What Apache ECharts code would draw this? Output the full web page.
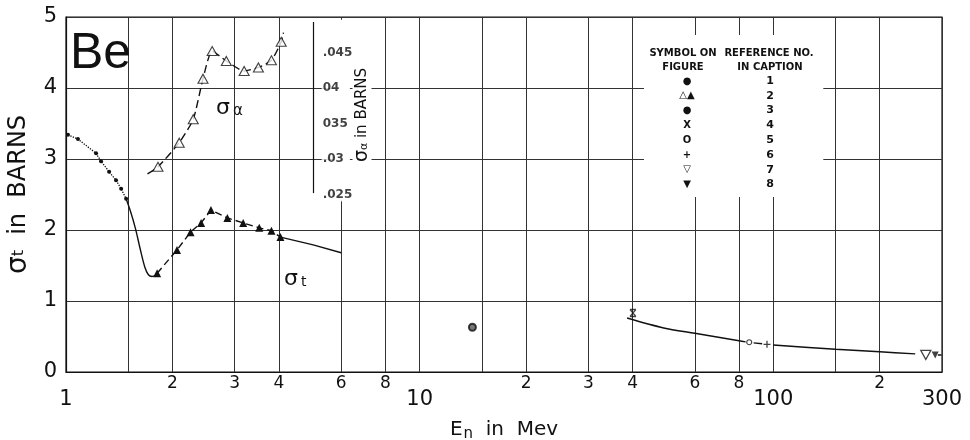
<!DOCTYPE html>
<html><head><meta charset="utf-8">
<script src="https://cdn.jsdelivr.net/npm/echarts@6/dist/echarts.min.js"></script>
<style>html,body{margin:0;padding:0;background:#fff}#c{width:970px;height:440px}</style>
</head><body><div id="c"></div>
<script>
// ---- data ----
const gridX = [1,1.5,2,3,4,6,8,10,15,20,30,40,60,80,100,150,200,300];
const upperTickValues = [2,3,4,6,8,20,30,40,60,80,200];
const upperTickLabels = ['2','3','4','6','8','2','3','4','6','8','2'];
const lowerTickValues = [1,10,100,300];
const lowerTickLabels = ['1','10','100','300'];
const yTickLabels = ['0','1','2','3','4','5'];

// ref 1 : total cross-section dots (barns)
const ref1Points = [[1.013,3.34],[1.081,3.28],[1.216,3.08],[1.256,2.97],[1.324,2.82],[1.385,2.70],[1.432,2.58],[1.479,2.44]];
const ref1Fit = [[1.479,2.44],[1.52,2.27],[1.57,2.03],[1.62,1.74],[1.67,1.48],[1.71,1.37],[1.75,1.345],[1.80,1.37]];
// ref 2 : sigma_t filled triangles (barns)
const sigmaTPoints = [[1.81,1.39],[2.06,1.72],[2.25,1.97],[2.41,2.10],[2.57,2.28],[2.86,2.17],[3.17,2.10],[3.52,2.03],[3.81,1.99],[4.04,1.90]];
const sigmaTTail = [[4.04,1.90],[5,1.79],[6,1.68]];
// ref 2 : sigma_alpha open triangles (barns, right-hand scale)
const sigmaAlphaPoints = [[1.82,0.0289],[2.09,0.0323],[2.29,0.0356],[2.44,0.0413],[2.59,0.0452],[2.84,0.0438],[3.19,0.0424],[3.50,0.0429],[3.81,0.0439],[4.06,0.0465]];
const sigmaAlphaCurve = [[1.70,0.0279],[1.82,0.0289],[2.09,0.0323],[2.29,0.0356],[2.44,0.0413],[2.59,0.0452],[2.84,0.0438],[3.19,0.0424],[3.50,0.0429],[3.81,0.0439],[4.06,0.0465],[4.12,0.0478]];
const alphaTickValues = [0.025,0.03,0.035,0.04,0.045];
const alphaTickLabels = ['.025','.03','035','04','.045'];
const alphaAxisSpan = [0.0252,0.0493];
const alphaAxisEnergy = 5;
// high energy points
const ref3Points = [[14.1,0.63]];
const ref4Points = [[40.1,0.83]];
const highCurveA = [[38.6,0.76],[49,0.62],[60,0.545],[80,0.44],[83.5,0.425]];
const ref5Points = [[85.5,0.42]];
const linkAB = [[88,0.41],[93,0.398]];
const ref6Points = [[96,0.39]];
const highCurveB = [[100,0.38],[150,0.32],[200,0.285],[252,0.255]];
const ref7Points = [[270,0.24]];
const ref8Points = [[287,0.24]];
const tailDash = [[292,0.24],[299,0.24]];
// legend table
const legendSymbols = ['●','△▲','●','X','O','+','▽','▼'];
const legendRefs = ['1','2','3','4','5','6','7','8'];

// ---- chart ----
const FONT = 'DejaVu Sans';
const INK = '#111';
const chart = echarts.init(document.getElementById('c'), null, {renderer:'canvas'});

function pick(vals, labels, v){
  const i = vals.findIndex(t => Math.abs(t - v) / t < 1e-6);
  return i >= 0 ? labels[i] : '';
}

const LF = 'bold 10px "DejaVu Sans"';
const legendEls = [];
function legendText(x, y, t, font){
  legendEls.push({type:'text', x:x, y:y, z:100, style:{text:t, font:font || LF, fill:INK, align:'center', verticalAlign:'middle'}});
}
legendText(683, 53, 'SYMBOL ON');
legendText(683, 67, 'FIGURE');
legendText(769, 53, 'REFERENCE NO.');
legendText(770, 67, 'IN CAPTION');
legendSymbols.forEach((s,i) => {
  legendText(687, 81 + i*14.8, s);
  legendText(770, 81 + i*14.8, legendRefs[i], 'bold 11px "DejaVu Sans"');
});

const solid = {color:INK, width:1.4, type:'solid'};
const option = {
  animation:false,
  backgroundColor:'#fff',
  textStyle:{fontFamily:FONT},
  grid:{left:66, right:28, top:17, bottom:68, outerBoundsMode:'none', containLabel:false, show:true, borderColor:INK, borderWidth:1.2, backgroundColor:'transparent'},
  xAxis:[
    {type:'log', logBase:10, min:1, max:300, position:'bottom',
     axisLine:{show:true, lineStyle:{color:INK, width:1.2}},
     axisTick:{show:false, customValues:gridX},
     splitLine:{show:true, lineStyle:{color:'#333', width:1}},
     axisLabel:{customValues:upperTickValues, margin:3, fontSize:17, color:INK, fontFamily:FONT,
       formatter:v => pick(upperTickValues, upperTickLabels, v)},
     name:'{e|E}{n|n}{r|  in  Mev}', nameLocation:'middle', nameGap:45,
     nameTextStyle:{rich:{e:{fontSize:20, fontFamily:FONT, color:INK}, n:{fontSize:15, fontFamily:FONT, color:INK, verticalAlign:'bottom', padding:[10,0,0,1]}, r:{fontSize:20, fontFamily:FONT, color:INK}}}
    },
    {type:'log', logBase:10, min:1, max:300, position:'bottom',
     axisLine:{show:false}, axisTick:{show:false}, splitLine:{show:false},
     axisLabel:{customValues:lowerTickValues, margin:17, fontSize:21, color:INK, fontFamily:FONT,
       formatter:v => pick(lowerTickValues, lowerTickLabels, v)}
    }
  ],
  yAxis:[
    {type:'value', min:0, max:5, interval:1,
     axisLine:{show:true, lineStyle:{color:INK, width:1.2}}, axisTick:{show:false},
     splitLine:{show:true, lineStyle:{color:'#333', width:1}},
     axisLabel:{fontSize:21, margin:9, color:INK, fontFamily:FONT, formatter:v => yTickLabels[Math.round(v)]},
     name:'{s|σ}{t|t}{r|  in  BARNS}', nameLocation:'middle', nameGap:30, nameRotate:90,
     nameTextStyle:{rich:{s:{fontSize:28, fontFamily:FONT, color:INK}, t:{fontSize:16, fontFamily:FONT, color:INK}, r:{fontSize:24, fontFamily:FONT, color:INK}}}
    },
    {type:'value', min:0, max:0.05, show:false}
  ],
  graphic:[
    {type:'text', x:70, y:54, z:100, style:{text:'Be', font:'50px "Liberation Sans"', fill:INK, align:'left', verticalAlign:'middle'}},
    {type:'text', x:216, y:108, z:100, style:{text:'{s|σ}{a|α}', rich:{s:{fontSize:22, fontFamily:FONT, fill:INK}, a:{fontSize:15, fontFamily:FONT, fill:INK, padding:[6,0,0,3]}}, align:'left', verticalAlign:'middle'}},
    {type:'text', x:284, y:279, z:100, style:{text:'{s|σ}{a|t}', rich:{s:{fontSize:22, fontFamily:FONT, fill:INK}, a:{fontSize:14, fontFamily:FONT, fill:INK, padding:[6,0,0,3]}}, align:'left', verticalAlign:'middle'}},
    {type:'text', x:362, y:115, z:100, rotation:Math.PI/2, style:{text:'{s|σ}{a|α}{r| in BARNS}', rich:{s:{fontSize:19, fontFamily:FONT, fill:INK}, a:{fontSize:11, fontFamily:FONT, fill:INK, padding:[5,0,0,0]}, r:{fontSize:15, fontFamily:FONT, fill:INK}}, align:'center', verticalAlign:'middle', backgroundColor:'#fff', padding:[0,2]}},
    {type:'group', z:100, children:legendEls}
  ],
  series:[
    {type:'line', data:ref1Points, symbol:'circle', symbolSize:4, itemStyle:{color:INK}, lineStyle:{color:INK, width:1.3, type:'dotted'}},
    {type:'line', data:ref1Fit, symbol:'none', smooth:0.35, lineStyle:solid},
    {type:'line', data:sigmaTPoints, symbol:'triangle', symbolSize:8, itemStyle:{color:INK}, lineStyle:{color:INK, width:1.4, type:[7,4]}},
    {type:'line', data:sigmaTTail, symbol:'none', lineStyle:solid},
    {type:'line', yAxisIndex:1, data:sigmaAlphaCurve, symbol:'none', smooth:0.2, lineStyle:{color:INK, width:1.4, type:[8,4]}},
    {type:'scatter', yAxisIndex:1, data:sigmaAlphaPoints, symbol:'triangle', symbolSize:[10,9], itemStyle:{color:'#fff', borderColor:INK, borderWidth:1.1}, z:3},
    {type:'scatter', yAxisIndex:1, data:alphaTickValues.map(v => [alphaAxisEnergy, v]), symbolSize:1, itemStyle:{color:'rgba(0,0,0,0)'},
     label:{show:true, position:'right', distance:8, fontSize:12, fontWeight:'bold', fontFamily:FONT, color:INK, backgroundColor:'#fff', padding:[1,1],
       formatter:p => alphaTickLabels[p.dataIndex]},
     markLine:{silent:true, symbol:'none', label:{show:false}, lineStyle:{color:INK, width:1.2, type:'solid'},
       data:[[{coord:[alphaAxisEnergy, alphaAxisSpan[0]]},{coord:[alphaAxisEnergy, alphaAxisSpan[1]]}]]}
    },
    {type:'scatter', data:ref3Points, symbol:'circle', symbolSize:7, itemStyle:{color:'#555', borderColor:INK, borderWidth:2},
     markArea:{silent:true, itemStyle:{color:'#fff', opacity:1, borderWidth:0}, label:{show:false},
       data:[[{coord:[43.1,4.746]},{coord:[138.5,2.465]}],[{coord:[5.75,4.96]},{coord:[6.35,2.42]}]]}
    },
    {type:'scatter', data:ref4Points, symbol:'path://M0,0 L10,0 M0,12 L10,12 M0,0 L10,12 M10,0 L0,12', symbolSize:[6,7], itemStyle:{color:'rgba(0,0,0,0)', borderColor:INK, borderWidth:1.3}},
    {type:'line', data:highCurveA, symbol:'none', smooth:0.3, lineStyle:solid},
    {type:'scatter', data:ref5Points, symbol:'circle', symbolSize:5, itemStyle:{color:'#fff', borderColor:INK, borderWidth:1.1}},
    {type:'line', data:linkAB, symbol:'none', lineStyle:solid},
    {type:'scatter', data:ref6Points, symbol:'path://M5,0 L5,10 M0,5 L10,5', symbolSize:7, itemStyle:{color:'rgba(0,0,0,0)', borderColor:INK, borderWidth:1.3}},
    {type:'line', data:highCurveB, symbol:'none', smooth:0.3, lineStyle:solid},
    {type:'scatter', data:ref7Points, symbol:'triangle', symbolRotate:180, symbolSize:[10,9], itemStyle:{color:'#fff', borderColor:INK, borderWidth:1.3}},
    {type:'scatter', data:ref8Points, symbol:'triangle', symbolRotate:180, symbolSize:[7,7], itemStyle:{color:INK}},
    {type:'line', data:tailDash, symbol:'none', lineStyle:solid}
  ]
};
chart.setOption(option);
</script>
</body></html>
